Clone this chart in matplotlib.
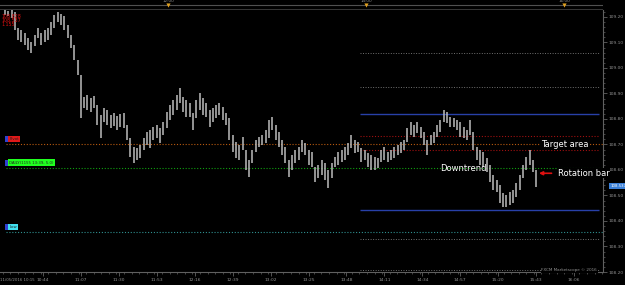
import numpy as np
import matplotlib.pyplot as plt
from matplotlib.ticker import MultipleLocator

# 2-minute bars, minutes after 10:15 on 11/05/2016
hi = [109.227, 109.223, 109.227, 109.220, 109.157, 109.149, 109.137, 109.118, 109.102, 109.129,
      109.157, 109.137, 109.149, 109.157, 109.180, 109.208, 109.220, 109.212, 109.204, 109.169,
      109.129, 109.090, 109.031, 108.973, 108.886, 108.894, 108.882, 108.890, 108.855, 108.816,
      108.843, 108.835, 108.816, 108.824, 108.812, 108.820, 108.824, 108.776, 108.725, 108.690,
      108.686, 108.698, 108.725, 108.749, 108.757, 108.769, 108.776, 108.765, 108.788, 108.827,
      108.855, 108.875, 108.894, 108.922, 108.886, 108.875, 108.863, 108.824, 108.875, 108.902,
      108.882, 108.863, 108.835, 108.843, 108.855, 108.863, 108.847, 108.824, 108.804, 108.737,
      108.710, 108.698, 108.729, 108.678, 108.639, 108.678, 108.718, 108.729, 108.737, 108.757,
      108.796, 108.808, 108.776, 108.749, 108.718, 108.690, 108.639, 108.659, 108.678, 108.690,
      108.718, 108.706, 108.678, 108.671, 108.612, 108.620, 108.639, 108.627, 108.600, 108.627,
      108.651, 108.671, 108.678, 108.690, 108.706, 108.737, 108.718, 108.710, 108.686, 108.678,
      108.667, 108.659, 108.651, 108.647, 108.678, 108.690, 108.671, 108.678, 108.690, 108.698,
      108.710, 108.718, 108.765, 108.788, 108.776, 108.788, 108.769, 108.749, 108.718, 108.737,
      108.749, 108.776, 108.796, 108.835, 108.827, 108.808, 108.804, 108.796, 108.788, 108.769,
      108.757, 108.796, 108.749, 108.690, 108.678, 108.671, 108.647, 108.620, 108.580, 108.561,
      108.541, 108.510, 108.502, 108.514, 108.522, 108.549, 108.580, 108.620, 108.651, 108.678,
      108.639, 108.600]
lo = [109.208, 109.204, 109.196, 109.149, 109.110, 109.102, 109.090, 109.071, 109.059, 109.086,
      109.118, 109.090, 109.102, 109.110, 109.129, 109.157, 109.180, 109.169, 109.149, 109.118,
      109.078, 109.031, 108.973, 108.804, 108.843, 108.835, 108.827, 108.843, 108.776, 108.725,
      108.788, 108.776, 108.765, 108.773, 108.757, 108.769, 108.765, 108.718, 108.651, 108.627,
      108.639, 108.647, 108.678, 108.698, 108.686, 108.718, 108.725, 108.706, 108.737, 108.765,
      108.796, 108.816, 108.835, 108.863, 108.827, 108.808, 108.808, 108.757, 108.804, 108.835,
      108.816, 108.808, 108.769, 108.788, 108.804, 108.816, 108.796, 108.776, 108.718, 108.671,
      108.647, 108.639, 108.678, 108.600, 108.573, 108.627, 108.671, 108.690, 108.698, 108.706,
      108.725, 108.757, 108.718, 108.690, 108.659, 108.627, 108.573, 108.600, 108.627, 108.639,
      108.671, 108.659, 108.620, 108.612, 108.553, 108.569, 108.580, 108.561, 108.529, 108.569,
      108.612, 108.620, 108.631, 108.639, 108.659, 108.686, 108.667, 108.671, 108.631, 108.639,
      108.612, 108.600, 108.600, 108.608, 108.631, 108.639, 108.631, 108.639, 108.647, 108.659,
      108.667, 108.678, 108.710, 108.737, 108.729, 108.745, 108.725, 108.698, 108.659, 108.698,
      108.706, 108.729, 108.749, 108.788, 108.784, 108.769, 108.769, 108.757, 108.729, 108.725,
      108.718, 108.737, 108.678, 108.639, 108.620, 108.612, 108.592, 108.553, 108.522, 108.514,
      108.471, 108.455, 108.455, 108.463, 108.471, 108.494, 108.522, 108.569, 108.600, 108.620,
      108.592, 108.533]
first_bar = 6
bar_step = 2
last_price = 108.537

time_ticks = [29, 52, 75, 98, 121, 144, 167, 190, 213, 236, 259, 282, 305, 328, 351]
time_labels = ['10:44', '11:07', '11:30', '11:53', '12:16', '12:39', '13:02', '13:25',
               '13:48', '14:11', '14:34', '14:57', '15:20', '15:43', '16:06']
hour_ticks = [105, 225, 345]
hour_labels = ['12:00', '14:00', '16:00']
price_ticks = [109.2, 109.1, 109.0, 108.9, 108.8, 108.7, 108.6, 108.5, 108.4, 108.3, 108.2]

# levels
lvl_pivot = 108.70
lvl_daily = 108.607
lvl_low = 108.355
box_top, box_bot = 108.818, 108.443
target_hi, target_lo = 108.733, 108.677
grey_lvls = [109.06, 108.925, 108.33, 108.206]
box_start = 221

mins = first_bar + bar_step * np.arange(len(hi))
xmin, xmax = 3.0, 368.5

fig = plt.figure(figsize=(6.25, 2.85), dpi=100, facecolor='black')
ax = fig.add_axes([0, 13/285, 603/625, 262/285])
ax.set_facecolor('black')
ax.set_xlim(xmin, xmax)
ax.set_ylim(108.20, 109.227)

dot = (0, (1, 1.6))
ax.hlines(lvl_pivot, 6.5, xmax, color='#b85a10', lw=0.8, ls=dot)
ax.hlines(lvl_daily, 6.5, xmax, color='#10a010', lw=0.8, ls=dot)
ax.hlines(lvl_low, 6.5, xmax, color='#2f8f8f', lw=0.8, ls=dot)
ax.hlines([box_top, box_bot], box_start, 366, color='#2840a8', lw=1.0)
ax.hlines([target_hi, target_lo], box_start, 366, color='#a01010', lw=0.8, ls=dot)
ax.hlines(grey_lvls, box_start, 366, color='#707070', lw=0.7, ls=dot)

ax.vlines(mins, lo, hi, color='#bcbcbc', lw=1.1)

# left tags
for lvl, col, txt in [(lvl_pivot, '#e01818', 'Pivot'),
                      (lvl_daily, '#20ff20', 'DAILY(1155 13:39, 5.0)'),
                      (lvl_low, '#40e0f0', 'Low')]:
    yy = lvl + 0.022
    ax.text(6.6, yy, ' ' * 2, fontsize=3, bbox=dict(boxstyle='square,pad=0.25',
            fc='#3040d0', ec='none'), va='center')
    ax.text(8.7, yy, txt, fontsize=2.8, color='#202020', va='center',
            bbox=dict(boxstyle='square,pad=0.3', fc=col, ec='none'))

ax.text(270, lvl_daily, 'Downtrend', color='white', fontsize=6, va='center', ha='left')
ax.text(331, lvl_pivot, 'Target area', color='white', fontsize=6, va='center', ha='left',
        bbox=dict(fc='black', ec='none', pad=0.5))
ax.text(341, last_price + 0.05, 'Rotation bar', color='white', fontsize=6, va='center',
        ha='left', bbox=dict(fc='black', ec='none', pad=0.5))
ax.annotate('', xy=(328, last_price + 0.05), xytext=(339, last_price + 0.05),
            arrowprops=dict(arrowstyle='-|>', color='#e01010', lw=1.2, mutation_scale=5))
ax.text(365, 108.206, 'FXCM Marketscope \u00a9 2016', color='#909090', fontsize=3,
        ha='right', va='center', bbox=dict(fc='black', ec='none', pad=0.3))

# axes styling
for s in ['top', 'left']:
    ax.spines[s].set_visible(False)
for s in ['bottom', 'right']:
    ax.spines[s].set_color('#606060')
    ax.spines[s].set_linewidth(0.8)
ax.yaxis.tick_right()
ax.set_yticks(price_ticks)
ax.set_yticklabels(['%.2f' % p for p in price_ticks])
ax.yaxis.set_minor_locator(MultipleLocator(0.02))
ax.set_xticks(time_ticks)
ax.set_xticklabels(time_labels)
ax.xaxis.set_minor_locator(MultipleLocator(4.6))
ax.tick_params(colors='#606060', labelcolor='#909090', labelsize=3.2, length=3, width=0.6, pad=1)
ax.tick_params(which='minor', colors='#606060', length=1.5, width=0.5)
ax.text(0.0, -0.032, '11/05/2016 10:15', transform=ax.transAxes, color='#909090',
        fontsize=2.8, va='center', ha='left')

# current price tag
ax.text(1.012, (last_price - 108.20) / (109.227 - 108.20), '%.3f' % last_price,
        transform=ax.transAxes, fontsize=2.8, color='white', va='center', ha='left',
        bbox=dict(boxstyle='square,pad=0.35', fc='#3a80d8', ec='none'), clip_on=False)

# top strip with hours
top = fig.add_axes([0, 1 - 10/285, 603/625, 10/285])
top.set_facecolor('black')
top.set_xlim(xmin, xmax)
top.set_ylim(0, 1)
top.axhline(0.55, color='#505050', lw=0.8)
top.axhline(0.05, color='#404040', lw=1.2)
for t, lab in zip(hour_ticks, hour_labels):
    top.plot(t, 0.5, marker='v', color='#e0a020', ms=3, mew=0)
    top.text(t, 0.85, lab, color='#909090', fontsize=3, ha='center', va='center')
top.set_xticks([])
top.set_yticks([])
for s in top.spines.values():
    s.set_visible(False)

# top-left readout
for k, txt in enumerate(['108.828', '108.537', '1.155']):
    fig.text(1/625, 1 - (16 + 4.5*k)/285, txt, color='#e01010', fontsize=3.4, va='center')

fig.savefig('out.png', dpi=100, facecolor='black')
